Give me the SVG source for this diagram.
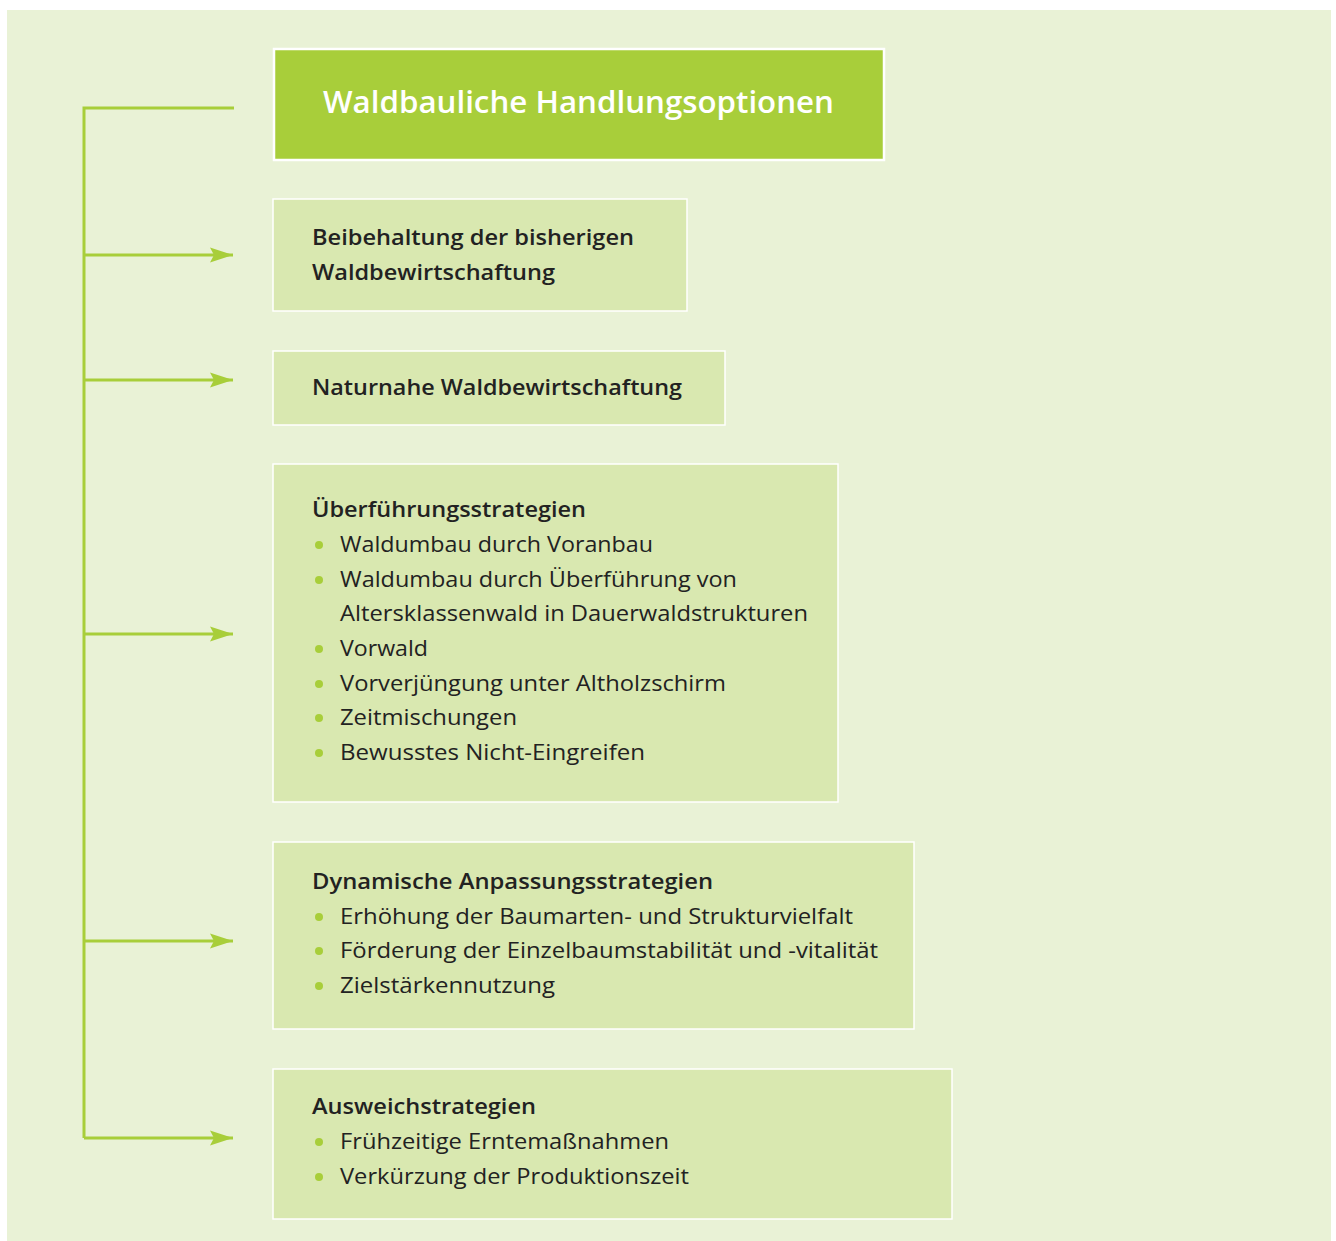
<svg xmlns="http://www.w3.org/2000/svg" width="1336" height="1241" viewBox="0 0 1336 1241">
<style>
.bg{fill:#e9f2d6}
.title{fill:#a8ce3a;stroke:#ffffff;stroke-width:2.5}
.box{fill:#d9e8b0;stroke:#ffffff;stroke-width:1.5}
.tt{font-family:"Open Sans","Liberation Sans",sans-serif;font-size:30px;font-weight:600;fill:#ffffff}
.h{font-family:"Open Sans","Liberation Sans",sans-serif;font-size:22px;font-weight:600;fill:#222222}
.t{font-family:"Open Sans","Liberation Sans",sans-serif;font-size:22px;font-weight:400;fill:#222222}
.b{fill:#a8ce3a}
.c{fill:none;stroke:#a8ce3a;stroke-width:3}
</style>
<defs>
<marker id="arr" markerUnits="userSpaceOnUse" markerWidth="26" markerHeight="18" refX="23" refY="8" orient="auto">
<path d="M0,0.5 L23,8 L0,15.5 L4,8 Z" fill="#a8ce3a"/>
</marker>
</defs>
<rect class="bg" x="7" y="10" width="1324" height="1231"/>
<g id="connectors">
<path class="c" d="M234,108 H84 V1138"/>
<path class="c" d="M84,255 H233" marker-end="url(#arr)"/>
<path class="c" d="M84,380 H233" marker-end="url(#arr)"/>
<path class="c" d="M84,634 H233" marker-end="url(#arr)"/>
<path class="c" d="M84,941 H233" marker-end="url(#arr)"/>
<path class="c" d="M84,1138 H233" marker-end="url(#arr)"/>
</g>
<g id="n0">
<rect class="title" x="274" y="49" width="610" height="111"/>
<text class="tt" x="323" y="113" textLength="511" lengthAdjust="spacingAndGlyphs">Waldbauliche Handlungsoptionen</text>
</g>
<g id="n1">
<rect class="box" x="273" y="199" width="414" height="112"/>
<text class="h" x="312" y="245" textLength="322" lengthAdjust="spacingAndGlyphs">Beibehaltung der bisherigen</text>
<text class="h" x="312" y="280" textLength="243" lengthAdjust="spacingAndGlyphs">Waldbewirtschaftung</text>
</g>
<g id="n2">
<rect class="box" x="273" y="351" width="452" height="74"/>
<text class="h" x="312" y="395" textLength="370" lengthAdjust="spacingAndGlyphs">Naturnahe Waldbewirtschaftung</text>
</g>
<g id="n3">
<rect class="box" x="273" y="464" width="565" height="338"/>
<text class="h" x="312" y="517" textLength="274" lengthAdjust="spacingAndGlyphs">Überführungsstrategien</text>
<circle class="b" cx="319" cy="545" r="4"/>
<text class="t" x="340" y="552" textLength="313" lengthAdjust="spacingAndGlyphs">Waldumbau durch Voranbau</text>
<circle class="b" cx="319" cy="580" r="4"/>
<text class="t" x="340" y="587" textLength="397" lengthAdjust="spacingAndGlyphs">Waldumbau durch Überführung von</text>
<text class="t" x="340" y="621" textLength="468" lengthAdjust="spacingAndGlyphs">Altersklassenwald in Dauerwaldstrukturen</text>
<circle class="b" cx="319" cy="649" r="4"/>
<text class="t" x="340" y="656" textLength="88" lengthAdjust="spacingAndGlyphs">Vorwald</text>
<circle class="b" cx="319" cy="684" r="4"/>
<text class="t" x="340" y="691" textLength="386" lengthAdjust="spacingAndGlyphs">Vorverjüngung unter Altholzschirm</text>
<circle class="b" cx="319" cy="718" r="4"/>
<text class="t" x="340" y="725" textLength="177" lengthAdjust="spacingAndGlyphs">Zeitmischungen</text>
<circle class="b" cx="319" cy="753" r="4"/>
<text class="t" x="340" y="760" textLength="305" lengthAdjust="spacingAndGlyphs">Bewusstes Nicht-Eingreifen</text>
</g>
<g id="n4">
<rect class="box" x="273" y="842" width="641" height="187"/>
<text class="h" x="312" y="889" textLength="401" lengthAdjust="spacingAndGlyphs">Dynamische Anpassungsstrategien</text>
<circle class="b" cx="319" cy="917" r="4"/>
<text class="t" x="340" y="924" textLength="513" lengthAdjust="spacingAndGlyphs">Erhöhung der Baumarten- und Strukturvielfalt</text>
<circle class="b" cx="319" cy="951" r="4"/>
<text class="t" x="340" y="958" textLength="538" lengthAdjust="spacingAndGlyphs">Förderung der Einzelbaumstabilität und -vitalität</text>
<circle class="b" cx="319" cy="986" r="4"/>
<text class="t" x="340" y="993" textLength="215" lengthAdjust="spacingAndGlyphs">Zielstärkennutzung</text>
</g>
<g id="n5">
<rect class="box" x="273" y="1069" width="679" height="150"/>
<text class="h" x="312" y="1114" textLength="224" lengthAdjust="spacingAndGlyphs">Ausweichstrategien</text>
<circle class="b" cx="319" cy="1142" r="4"/>
<text class="t" x="340" y="1149" textLength="329" lengthAdjust="spacingAndGlyphs">Frühzeitige Erntemaßnahmen</text>
<circle class="b" cx="319" cy="1177" r="4"/>
<text class="t" x="340" y="1184" textLength="349" lengthAdjust="spacingAndGlyphs">Verkürzung der Produktionszeit</text>
</g>
</svg>
